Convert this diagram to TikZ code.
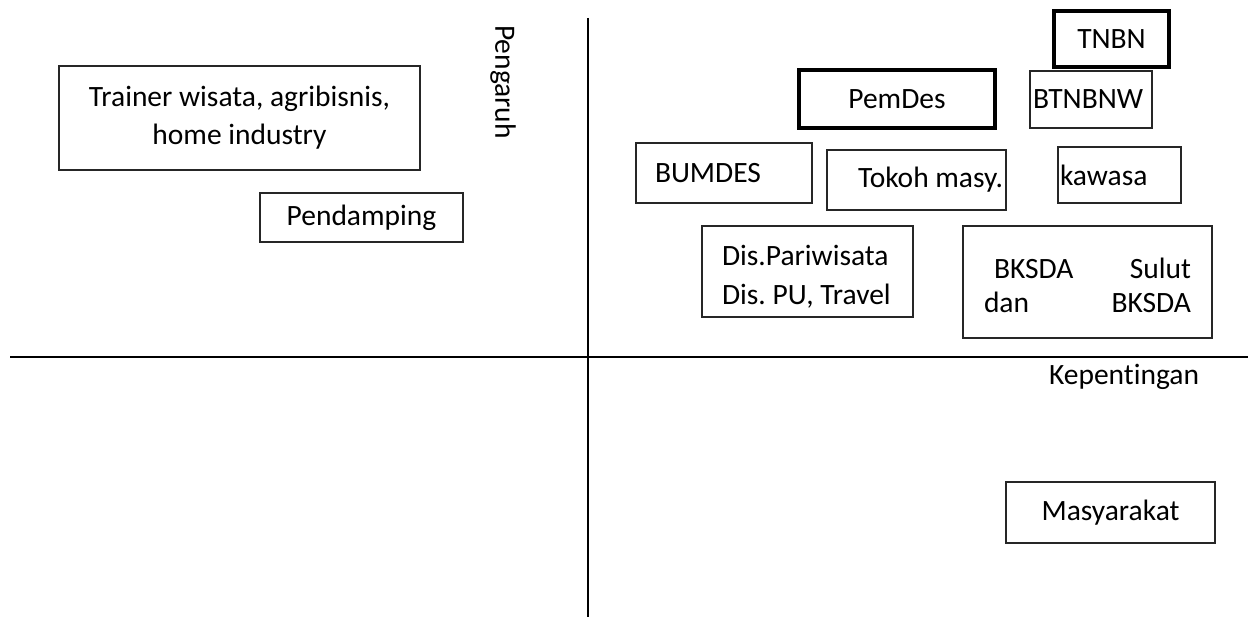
\documentclass[tikz,border=0pt]{standalone}
\usepackage{fontspec}
\setmainfont[Ligatures={NoCommon,NoContextual}]{Carlito}
\usepackage{tikz}
\usetikzlibrary{positioning}
\frenchspacing
\definecolor{quadLine}{HTML}{000000}
\definecolor{boxLine}{HTML}{262626}
\tikzset{
  box/.style={rectangle, draw=boxLine, line width=1.3pt, inner ysep=0pt, inner xsep=0pt, align=center, font=\fontsize{29.5pt}{38pt}\selectfont},
  thickbox/.style={box, draw=quadLine, line width=4pt},
  axislabel/.style={inner sep=0pt, font=\fontsize{29.5pt}{38pt}\selectfont},
  axis/.style={draw=quadLine, line width=2.6pt}
}
\begin{document}
\begin{tikzpicture}[x=1pt, y=-1pt]
  \useasboundingbox (0,0) rectangle (1250,617);
  \coordinate (ytop) at (588,18);
  \coordinate (ybot) at (588,617);
  \coordinate (xleft) at (10,357);
  \coordinate (xright) at (1248,357);
  \draw[axis] (ytop) -- (ybot);
  \draw[axis] (xleft) -- (xright);

  \node[axislabel, rotate=-90] (pengaruh) at (503,82) {Pengaruh};
  \node[axislabel] (kepentingan) at (1124,377) {Kepentingan};

  \node[box, minimum width=361pt, minimum height=104pt] (trainer) at (239.5,118) {Trainer wisata, agribisnis,\\home industry};
  \node[box, minimum width=203pt, minimum height=49pt] (pendamping) at (361.5,217.5) {Pendamping};

  \node[thickbox, minimum width=115pt, minimum height=56pt] (tnbn) at (1111.5,39) {TNBN};
  \node[thickbox, minimum width=196pt, minimum height=58pt] (pemdes) at (897,99) {PemDes};
  \node[box, text width=116pt, inner xsep=3pt, align=flush left, minimum height=57pt] (btnbnw) at (1091,99.5) {BTNBNW};
  \node[box, text width=138pt, inner xsep=19pt, align=flush left, minimum height=60pt] (bumdes) at (724,173) {BUMDES};
  \node[box, text width=173pt, inner xsep=3pt, align=flush right, minimum height=60pt] (tokoh) at (916.5,180) {Tokoh masy.};
  \node[box, text width=119pt, inner xsep=2pt, align=flush left, minimum height=56pt] (kawasa) at (1119.5,175) {kawasa};
  \node[box, text width=171pt, inner xsep=20pt, align=flush left, minimum height=91pt,
        font=\fontsize{29.5pt}{39pt}\selectfont] (dispar) at (807.5,271.5) {\rule{0pt}{30pt}Dis.Pariwisata\\Dis. PU, Travel};
  \node[box, text width=207pt, inner xsep=21pt, align=flush left, minimum height=112pt,
        font=\fontsize{29.5pt}{34pt}\selectfont] (bksda) at (1087.5,282) {\rule{0pt}{28pt}\hspace*{10pt}BKSDA\hfill Sulut\\dan\hfill BKSDA};

  \node[box, minimum width=209pt, minimum height=61pt] (masy) at (1110.5,512.5) {Masyarakat};
\end{tikzpicture}
\end{document}
